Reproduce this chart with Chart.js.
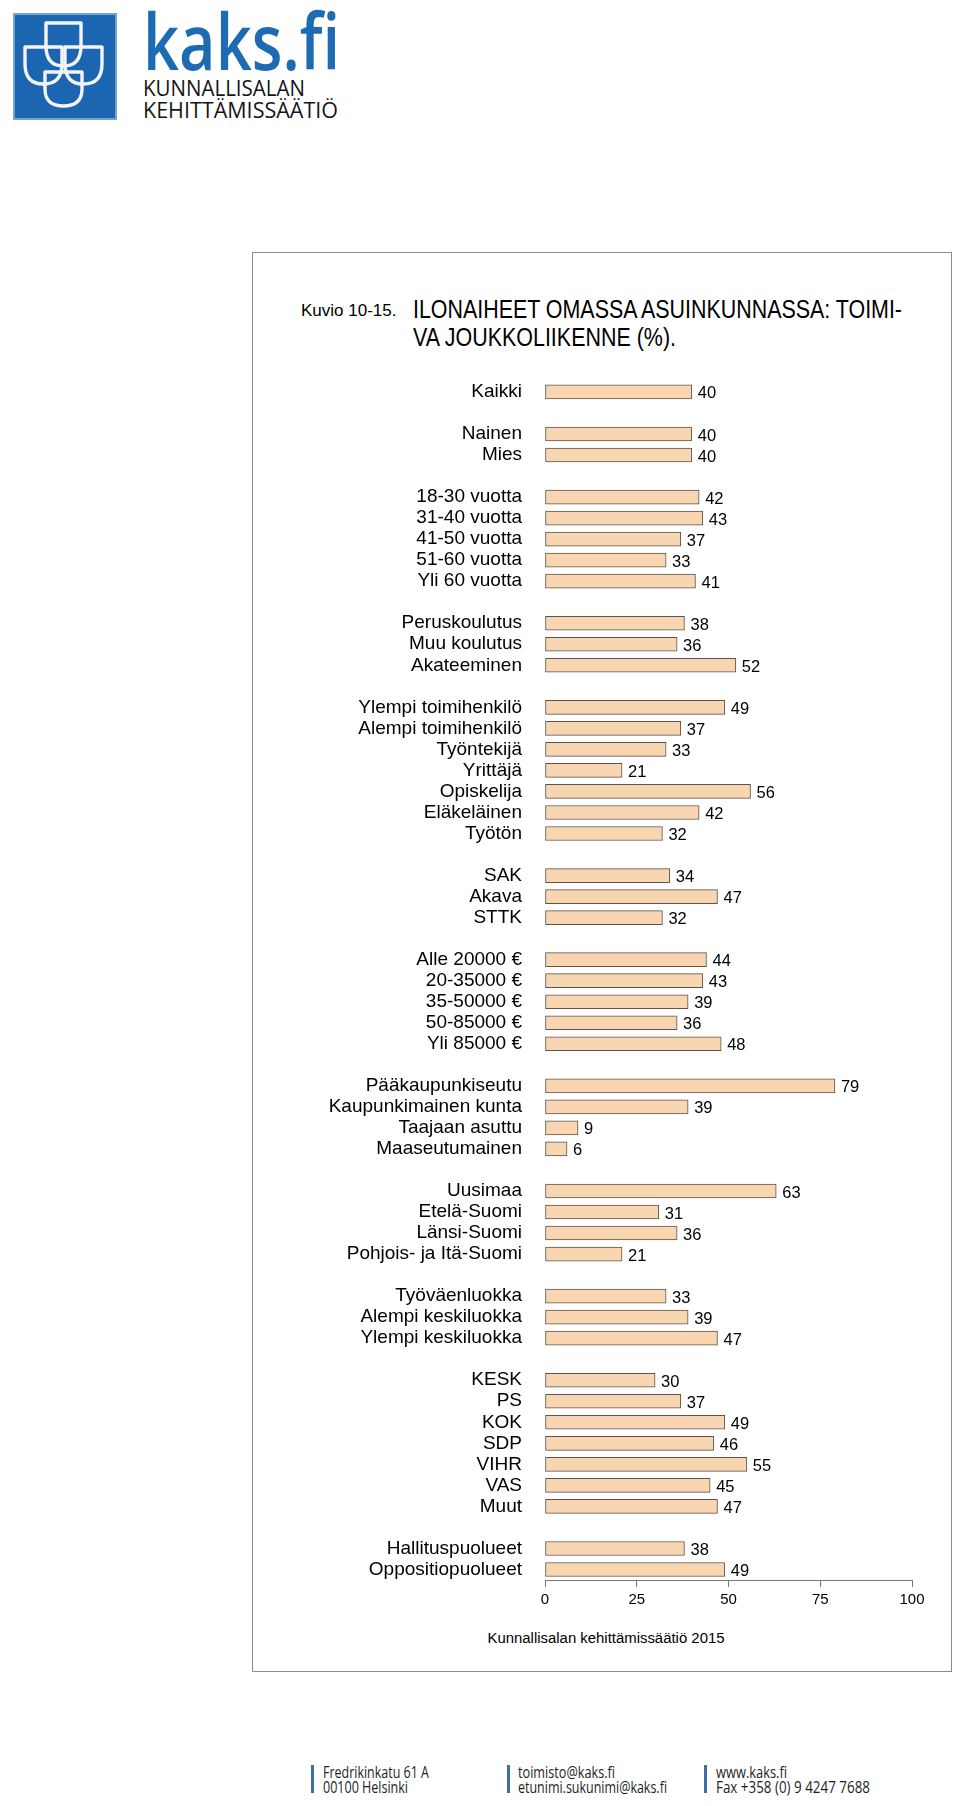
<!DOCTYPE html>
<html lang="fi">
<head>
  <meta charset="UTF-8" />
  <title>Kuvio 10-15. Ilonaiheet omassa asuinkunnassa: toimiva joukkoliikenne</title>
  <script src="https://cdn.jsdelivr.net/npm/chart.js"></script>
  <style>
    body {
      margin: 0;
      background: #fff;
      font-family: "Liberation Sans", Arial, sans-serif;
    }
    #page {
      position: relative;
      width: 960px;
      height: 1806px;
      overflow: hidden;
    }
    #frame {
      position: absolute;
      left: 252px;
      top: 252px;
      width: 700px;
      height: 1420px;
      box-sizing: border-box;
      border: 1.5px solid #8c8c8c;
    }
    #chart-box {
      position: absolute;
      left: 260px;
      top: 355px;
      width: 680px;
      height: 1265px;
    }
    svg.overlay {
      position: absolute;
      left: 0;
      top: 0;
      pointer-events: none;
    }
  </style>
</head>
<body>
<div id="page">
  <svg class="overlay" width="960" height="1806">
    <!-- logo -->
    <rect x="14" y="14" width="102" height="105" fill="#1b65b1" stroke="#78a3d0" stroke-width="2"/>
    <g fill="none" stroke="#f2f4f8" stroke-width="3.4" stroke-linejoin="round">
      <path d="M46 23 H81 V46 Q81 66 63.5 66 Q46 66 46 46 Z"/>
      <path d="M25 47 H62 V64 Q62 84 43.5 84 Q25 84 25 64 Z"/>
      <path d="M65 47 H102 V64 Q102 84 83.5 84 Q65 84 65 64 Z"/>
      <path d="M45 72 H82 V89 Q82 106 63.5 106 Q45 106 45 89 Z"/>
    </g>
    <text x="143" y="70" font-family="Open Sans" font-weight="600" font-size="78" fill="#1d6bb3"
          textLength="197" lengthAdjust="spacingAndGlyphs">kaks.fi</text>
    <text x="143" y="96" font-family="Open Sans" font-size="22" fill="#151515"
          textLength="162" lengthAdjust="spacingAndGlyphs">KUNNALLISALAN</text>
    <text x="143" y="118" font-family="Open Sans" font-size="22" fill="#151515"
          textLength="195" lengthAdjust="spacingAndGlyphs">KEHITTÄMISSÄÄTIÖ</text>

    <!-- title -->
    <text x="301" y="316" font-family="Liberation Sans Narrow, Liberation Sans, Arial" font-size="17" fill="#000">Kuvio 10-15.</text>
    <text x="413" y="318" font-family="Liberation Sans Narrow, Liberation Sans, Arial" font-size="25" fill="#000"
          textLength="489" lengthAdjust="spacingAndGlyphs">ILONAIHEET OMASSA ASUINKUNNASSA: TOIMI-</text>
    <text x="413" y="346" font-family="Liberation Sans Narrow, Liberation Sans, Arial" font-size="25" fill="#000"
          textLength="263" lengthAdjust="spacingAndGlyphs">VA JOUKKOLIIKENNE (%).</text>

    <!-- source -->
    <text x="606" y="1643" text-anchor="middle" font-family="Liberation Sans, Arial" font-size="15.5" fill="#000"
          textLength="237" lengthAdjust="spacingAndGlyphs">Kunnallisalan kehittämissäätiö 2015</text>

    <!-- footer -->
    <g fill="#3a6fa8">
      <rect x="311" y="1765" width="3" height="28"/>
      <rect x="507" y="1765" width="3" height="28"/>
      <rect x="704" y="1765" width="3" height="28"/>
    </g>
    <g font-family="Open Sans" font-size="16.5" fill="#1e1e1e">
      <text x="323" y="1778" textLength="106" lengthAdjust="spacingAndGlyphs">Fredrikinkatu 61 A</text>
      <text x="323" y="1793" textLength="85" lengthAdjust="spacingAndGlyphs">00100 Helsinki</text>
      <text x="518" y="1778" textLength="97" lengthAdjust="spacingAndGlyphs">toimisto@kaks.fi</text>
      <text x="518" y="1793" textLength="149" lengthAdjust="spacingAndGlyphs">etunimi.sukunimi@kaks.fi</text>
      <text x="716" y="1778" textLength="71" lengthAdjust="spacingAndGlyphs">www.kaks.fi</text>
      <text x="716" y="1793" textLength="154" lengthAdjust="spacingAndGlyphs">Fax +358 (0) 9 4247 7688</text>
    </g>
  </svg>

  <div id="frame"></div>
  <div id="chart-box">
    <canvas id="bars"></canvas>
  </div>
</div>

<script>
  // categories, '' = empty row between groups
  const labels = [
    'Kaikki', '',
    'Nainen', 'Mies', '',
    '18-30 vuotta', '31-40 vuotta', '41-50 vuotta', '51-60 vuotta', 'Yli 60 vuotta', '',
    'Peruskoulutus', 'Muu koulutus', 'Akateeminen', '',
    'Ylempi toimihenkilö', 'Alempi toimihenkilö', 'Työntekijä', 'Yrittäjä', 'Opiskelija', 'Eläkeläinen', 'Työtön', '',
    'SAK', 'Akava', 'STTK', '',
    'Alle 20000 €', '20-35000 €', '35-50000 €', '50-85000 €', 'Yli 85000 €', '',
    'Pääkaupunkiseutu', 'Kaupunkimainen kunta', 'Taajaan asuttu', 'Maaseutumainen', '',
    'Uusimaa', 'Etelä-Suomi', 'Länsi-Suomi', 'Pohjois- ja Itä-Suomi', '',
    'Työväenluokka', 'Alempi keskiluokka', 'Ylempi keskiluokka', '',
    'KESK', 'PS', 'KOK', 'SDP', 'VIHR', 'VAS', 'Muut', '',
    'Hallituspuolueet', 'Oppositiopuolueet'
  ];

  // percent values, null = empty row
  const values = [
    40, null,
    40, 40, null,
    42, 43, 37, 33, 41, null,
    38, 36, 52, null,
    49, 37, 33, 21, 56, 42, 32, null,
    34, 47, 32, null,
    44, 43, 39, 36, 48, null,
    79, 39, 9, 6, null,
    63, 31, 36, 21, null,
    33, 39, 47, null,
    30, 37, 49, 46, 55, 45, 47, null,
    38, 49
  ];

  const xTicks = [0, 25, 50, 75, 100];

  const valueLabels = {
    id: 'valueLabels',
    afterDatasetsDraw(chart) {
      const ctx = chart.ctx;
      const meta = chart.getDatasetMeta(0);
      ctx.save();
      ctx.font = '16.5px "Liberation Sans Narrow", "Liberation Sans", Arial, sans-serif';
      ctx.fillStyle = '#000';
      ctx.textBaseline = 'middle';
      ctx.textAlign = 'left';
      meta.data.forEach((bar, i) => {
        const v = values[i];
        if (v === null) return;
        ctx.fillText(String(v), bar.x + 6, bar.y + 2);
      });
      ctx.restore();
    }
  };

  new Chart(document.getElementById('bars'), {
    type: 'bar',
    data: {
      labels,
      datasets: [{
        data: values,
        backgroundColor: '#f8d6b1',
        borderColor: '#5e5249',
        borderWidth: 1,
        borderSkipped: false,
        barThickness: 14
      }]
    },
    options: {
      indexAxis: 'y',
      responsive: true,
      maintainAspectRatio: false,
      animation: false,
      layout: { padding: { top: 20, right: 28, left: 0, bottom: 0 } },
      plugins: {
        legend: { display: false },
        tooltip: { enabled: false }
      },
      scales: {
        y: {
          grid: { display: false },
          border: { display: false },
          ticks: {
            autoSkip: false,
            padding: 15,
            color: '#000',
            font: { family: '"Liberation Sans", Arial, sans-serif', size: 19 }
          },
          afterFit(scale) { scale.width = 285; }
        },
        x: {
          min: 0,
          max: 100,
          afterBuildTicks(scale) { scale.ticks = xTicks.map(v => ({ value: v })); },
          grid: { drawOnChartArea: false, drawTicks: true, tickLength: 7, color: '#777' },
          border: { display: true, color: '#777', width: 1 },
          ticks: {
            padding: 4,
            color: '#000',
            font: { family: '"Liberation Sans", Arial, sans-serif', size: 15 }
          },
          afterFit(scale) { scale.height = 40; }
        }
      }
    },
    plugins: [valueLabels]
  });
</script>
</body>
</html>
